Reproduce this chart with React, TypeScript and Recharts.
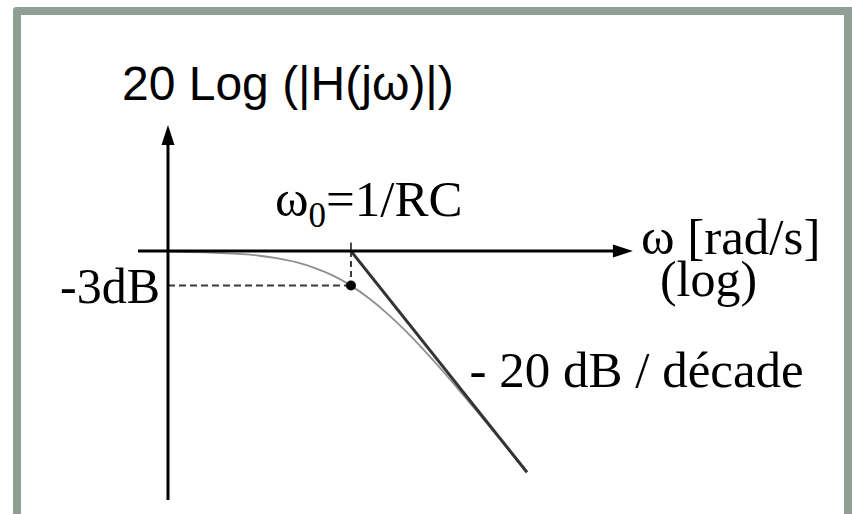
import React from 'react';
import { LineChart, Line, XAxis, YAxis, ReferenceLine, ReferenceDot } from 'recharts';

// x = log10(ω / ω0), y = gain in dB
const responseLog = [-1.0, -0.8, -0.6, -0.5, -0.4, -0.3, -0.2, -0.1, 0, 0.1, 0.2, 0.3, 0.4, 0.5, 0.6, 0.7, 0.8, 0.9, 0.96];
const responseDb = [-0.04, -0.11, -0.27, -0.41, -0.64, -0.97, -1.46, -2.12, -3.01, -4.13, -5.46, -6.97, -8.64, -10.41, -12.27, -14.17, -16.11, -18.07, -19.25];

// high-frequency asymptote: -20 dB per decade from ω0
const asymptoteLog = [0, 0.962];
const asymptoteDb = [0, -19.24];

// cutoff point
const cutoffLog = 0;
const cutoffDb = -3;

// axis extents
const gainAxisLog = -1;
const gainAxisDb = [-21.65, 10.96];
const freqAxisLog = [-1.164, 1.541];

const response = responseLog.map((x, i) => ({ x, y: responseDb[i] }));
const asymptote = asymptoteLog.map((x, i) => ({ x, y: asymptoteDb[i] }));

const X_DOMAIN: [number, number] = [-1.918, 2.738];
const Y_DOMAIN: [number, number] = [-22.87, 21.83];

const SERIF = '"Liberation Serif", "Times New Roman", serif';
const SANS = '"Liberation Sans", Arial, sans-serif';
const SERIF_SIZE = 50;

const Arrow = (p: any) => {
  const { x1, y1, x2, y2 } = p;
  const dx = x2 - x1;
  const dy = y2 - y1;
  const len = Math.hypot(dx, dy) || 1;
  const ux = dx / len;
  const uy = dy / len;
  const head = 20;
  const half = 6.5;
  const bx = x2 - ux * head;
  const by = y2 - uy * head;
  return (
    <g>
      <line x1={x1} y1={y1} x2={bx + ux * 2} y2={by + uy * 2} stroke="#000" strokeWidth={3} />
      <polygon
        points={`${x2},${y2} ${bx - uy * half},${by + ux * half} ${bx + uy * half},${by - ux * half}`}
        fill="#000"
      />
    </g>
  );
};

const textShape =
  (content: React.ReactNode, dx: number, dy: number, family: string, size: number, anchor = 'start') =>
  (p: any) => (
    <text
      x={p.cx + dx}
      y={p.cy + dy}
      fontFamily={family}
      fontSize={size}
      textAnchor={anchor}
      fill="#000"
    >
      {content}
    </text>
  );

const OmegaZero = (
  <>
    <tspan>ω</tspan>
    <tspan dy={11} fontSize={35}>0</tspan>
    <tspan dy={-11}>=1/RC</tspan>
  </>
);

export default function App() {
  return (
    <div
      style={{
        position: 'absolute',
        left: 0,
        top: 0,
        width: 852,
        height: 514,
        overflow: 'hidden',
        background: '#fff',
      }}
    >
      <div
        style={{
          position: 'absolute',
          left: 13,
          top: 7,
          width: 839,
          height: 600,
          boxSizing: 'border-box',
          border: '8px solid #909f93',
          borderBottom: 'none',
          borderTopLeftRadius: 4,
        }}
      />
      <div style={{ position: 'absolute', left: 0, top: 0 }}>
        <LineChart width={852} height={514} margin={{ top: 0, right: 0, bottom: 0, left: 0 }}>
          <XAxis type="number" dataKey="x" domain={X_DOMAIN} allowDataOverflow hide />
          <YAxis type="number" dataKey="y" domain={Y_DOMAIN} allowDataOverflow hide />

          {/* dashed guides to the -3 dB point */}
          <ReferenceLine
            segment={[{ x: gainAxisLog, y: cutoffDb }, { x: cutoffLog, y: cutoffDb }]}
            stroke="#3a3a3a"
            strokeWidth={2}
            strokeDasharray="7 4"
          />
          <ReferenceLine
            segment={[{ x: cutoffLog, y: 0 }, { x: cutoffLog, y: cutoffDb }]}
            stroke="#3a3a3a"
            strokeWidth={2}
            strokeDasharray="6 4"
          />
          <ReferenceLine
            segment={[{ x: cutoffLog, y: 0.75 }, { x: cutoffLog, y: 0 }]}
            stroke="#3a3a3a"
            strokeWidth={1.8}
          />

          {/* exact magnitude response */}
          <Line
            data={response}
            dataKey="y"
            type="monotone"
            stroke="#8f8f8f"
            strokeWidth={1.8}
            dot={false}
            activeDot={false}
            isAnimationActive={false}
          />
          {/* asymptote */}
          <Line
            data={asymptote}
            dataKey="y"
            type="linear"
            stroke="#333"
            strokeWidth={3}
            dot={false}
            activeDot={false}
            isAnimationActive={false}
          />

          {/* axes with arrowheads */}
          <ReferenceLine
            segment={[{ x: freqAxisLog[0], y: 0 }, { x: freqAxisLog[1], y: 0 }]}
            shape={Arrow}
          />
          <ReferenceLine
            segment={[{ x: gainAxisLog, y: gainAxisDb[0] }, { x: gainAxisLog, y: gainAxisDb[1] }]}
            shape={Arrow}
          />

          <ReferenceDot x={cutoffLog} y={cutoffDb} r={5} fill="#000" stroke="none" />

          {/* annotations */}
          <ReferenceDot
            x={gainAxisLog}
            y={gainAxisDb[1]}
            r={0}
            shape={textShape('20 Log (|H(jω)|)', -46, -25, SANS, 48)}
          />
          <ReferenceDot
            x={cutoffLog}
            y={0}
            r={0}
            shape={textShape(OmegaZero, -76, -35, SERIF, 51)}
          />
          <ReferenceDot
            x={freqAxisLog[1]}
            y={0}
            r={0}
            shape={textShape('ω [rad/s]', 8, 3, SERIF, 51)}
          />
          <ReferenceDot
            x={freqAxisLog[1]}
            y={0}
            r={0}
            shape={textShape('(log)', 27, 45, SERIF, SERIF_SIZE)}
          />
          <ReferenceDot
            x={gainAxisLog}
            y={cutoffDb}
            r={0}
            shape={textShape('-3dB', -8, 17, SERIF, SERIF_SIZE, 'end')}
          />
          <ReferenceDot
            x={0.5}
            y={-10}
            r={0}
            shape={textShape('- 20 dB / décade', 27, 21, SERIF, 51)}
          />
        </LineChart>
      </div>
    </div>
  );
}
